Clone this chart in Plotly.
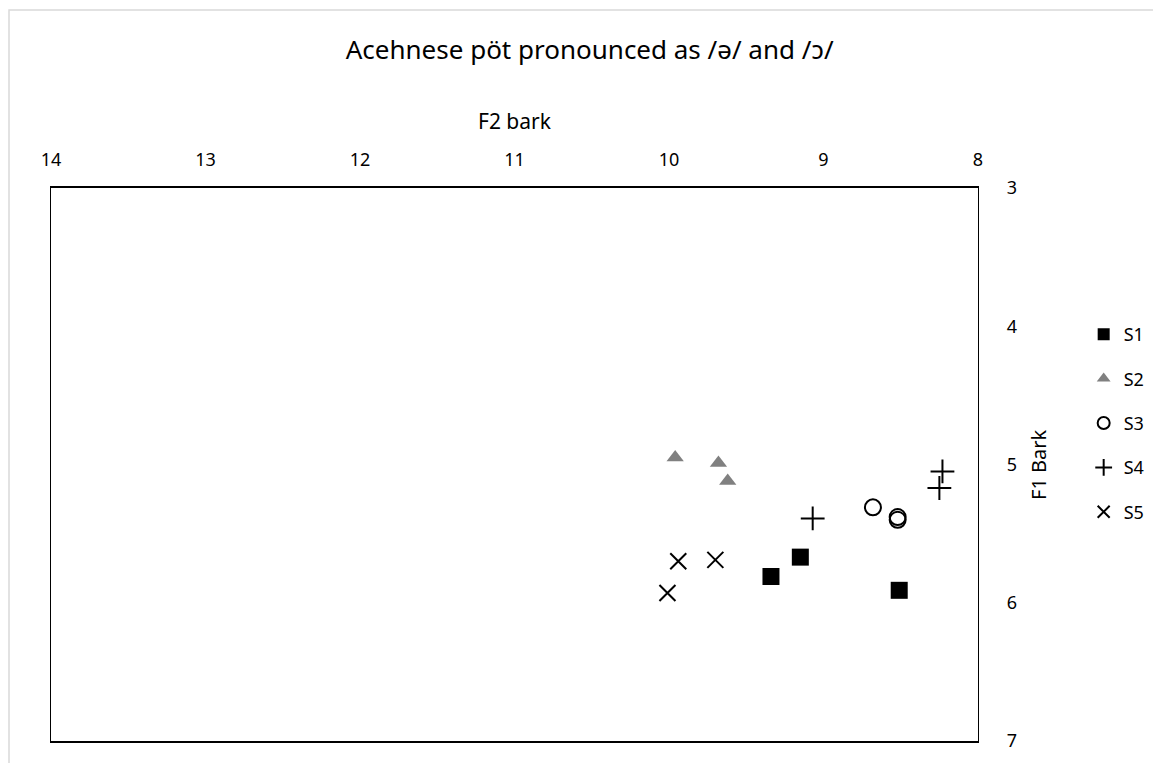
import plotly.graph_objects as go

# Data (F2 bark, F1 bark)
s1_f2 = [9.34, 9.15, 8.51]
s1_f1 = [5.81, 5.67, 5.91]
s2_f2 = [9.96, 9.68, 9.62]
s2_f1 = [4.95, 4.99, 5.12]
s3_f2 = [8.68, 8.52, 8.52]
s3_f1 = [5.31, 5.38, 5.40]
s4_f2 = [8.23, 8.25, 9.07]
s4_f1 = [5.05, 5.17, 5.39]
s5_f2 = [9.94, 9.70, 10.01]
s5_f1 = [5.70, 5.69, 5.93]

x_ticks = [14, 13, 12, 11, 10, 9, 8]
y_ticks = [3, 4, 5, 6, 7]

FONT = "Noto Sans"

fig = go.Figure()
series = [
    ("S1", s1_f2, s1_f1, dict(symbol="square", size=17, color="black")),
    ("S2", s2_f2, s2_f1, dict(symbol="triangle-up", size=15, color="#808080")),
    ("S3", s3_f2, s3_f1, dict(symbol="circle-open", size=16, color="black", line=dict(color="black", width=2))),
    ("S4", s4_f2, s4_f1, dict(symbol="cross-thin", size=17, color="black", line=dict(color="black", width=2))),
    ("S5", s5_f2, s5_f1, dict(symbol="x-thin", size=16, color="black", line=dict(color="black", width=2))),
]
for name, xs, ys, mk in series:
    fig.add_trace(go.Scatter(x=xs, y=ys, mode="markers", name=name, marker=mk,
                             legendgroup=name))

fig.update_layout(
    width=1161, height=763,
    margin=dict(l=43, r=191, t=180, b=30),
    paper_bgcolor="white", plot_bgcolor="white",
    font=dict(family=FONT, color="black", size=18),
    title=dict(text="Acehnese pöt pronounced as /ə/ and /ɔ/", x=0.501, xanchor="center",
               xref="container", yref="container",
               y=0.945, yanchor="middle", font=dict(size=26, family=FONT, color="black")),
    xaxis=dict(range=[14, 8], side="top", tickvals=x_ticks, ticktext=[str(v) for v in x_ticks],
               showgrid=False, zeroline=False, showline=True, mirror=True, linecolor="black", linewidth=1.5,
               ticks="", ticklabelstandoff=13, tickfont=dict(size=18)),
    yaxis=dict(range=[7, 3], side="right", tickvals=y_ticks, ticktext=[str(v) for v in y_ticks],
               showgrid=False, zeroline=False, showline=True, mirror=True, linecolor="black", linewidth=1.2,
               ticks="", ticklabelstandoff=24, tickfont=dict(size=18)),
    annotations=[
        dict(text="F2 bark", xref="paper", yref="paper", x=0.5005, y=1.121, xanchor="center",
             yanchor="middle", showarrow=False, font=dict(size=21)),
        dict(text="F1 Bark", xref="paper", yref="paper", x=1.0647, y=0.5009, xanchor="center",
             yanchor="middle", textangle=-90, showarrow=False, font=dict(size=20)),
    ],
    legend=dict(x=1.114, xanchor="left", y=0.7685, yanchor="top", tracegroupgap=18,
                font=dict(size=18), itemwidth=30, itemsizing="constant", bgcolor="rgba(0,0,0,0)"),
    shapes=[dict(type="rect", xref="paper", yref="paper", x0=-0.0453, x1=2, y0=-1, y1=1.3219,
                 line=dict(color="#d9d9d9", width=1.5), fillcolor="rgba(0,0,0,0)", layer="below")],
)

fig.write_html("out.html")
